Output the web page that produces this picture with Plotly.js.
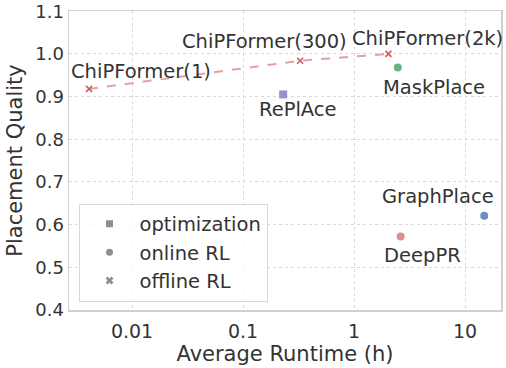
<!DOCTYPE html>
<html>
<head>
<meta charset="utf-8">
<script src="https://cdn.plot.ly/plotly-3.0.1.min.js"></script>
<style>
  body { margin: 0; }
  #graph { width: 506px; height: 368px; }
</style>
</head>
<body>
<div id="graph"></div>
<script>
// ChiPFormer runs (offline RL)
var chipNames = ["ChiPFormer(1)", "ChiPFormer(300)", "ChiPFormer(2k)"];
var chipRuntime = [0.0041, 0.327, 2.04];
var chipQuality = [0.918, 0.984, 1.0];

// other methods
var otherNames = ["RePlAce", "MaskPlace", "DeepPR", "GraphPlace"];
var otherRuntime = [0.23, 2.48, 2.63, 14.9];
var otherQuality = [0.905, 0.968, 0.572, 0.621];

var legendNames = ["optimization", "online RL", "offline RL"];
var yTicks = [0.4, 0.5, 0.6, 0.7, 0.8, 0.9, 1.0, 1.1];

var font = "DejaVu Sans, sans-serif";

function drawGraph() {
    var data = [];

    // dashed line through the ChiPFormer points
    data.push({
        x: chipRuntime,
        y: chipQuality,
        type: "scatter",
        mode: "lines+markers",
        line: {color: "rgba(214,110,110,0.65)", width: 2, dash: "dash"},
        marker: {symbol: "x-thin", size: 6, line: {color: "#cf5c5c", width: 1.6}, color: "#cf5c5c"},
        showlegend: false,
        hoverinfo: "skip"
    });

    // RePlAce square, the rest circles
    var otherColors = ["#9a8fc8", "#6cb47f", "#e48c8c", "#6a8cc8"];
    var otherSymbols = ["square", "circle", "circle", "circle"];
    for (var i = 0; i < otherNames.length; i++) {
        data.push({
            x: [otherRuntime[i]],
            y: [otherQuality[i]],
            type: "scatter",
            mode: "markers",
            marker: {symbol: otherSymbols[i], size: 8, color: otherColors[i]},
            showlegend: false
        });
    }

    // legend entries, grey markers only
    var legendSymbols = ["square", "circle", "x"];
    for (var j = 0; j < legendNames.length; j++) {
        data.push({
            x: [null],
            y: [null],
            type: "scatter",
            mode: "markers",
            name: legendNames[j],
            marker: {symbol: legendSymbols[j], size: 7, color: "#8e8e8e"}
        });
    }

    // label offsets in pixels (x, y)
    var chipShift = [[52, 17], [-36, 19], [39, 15]];
    var otherShift = [[15, -15], [36, -20], [22, -19], [-46, 19]];
    var annotations = [];
    for (var a = 0; a < chipNames.length; a++) {
        annotations.push({
            x: Math.log10(chipRuntime[a]), y: chipQuality[a], text: chipNames[a],
            showarrow: false, xshift: chipShift[a][0], yshift: chipShift[a][1],
            font: {family: font, size: 19.5, color: "#333"}
        });
    }
    for (var b = 0; b < otherNames.length; b++) {
        annotations.push({
            x: Math.log10(otherRuntime[b]), y: otherQuality[b], text: otherNames[b],
            showarrow: false, xshift: otherShift[b][0], yshift: otherShift[b][1],
            font: {family: font, size: 19.5, color: "#333"}
        });
    }

    var layout = {
        width: 506,
        height: 368,
        margin: {l: 69, r: 5, t: 11, b: 58},
        paper_bgcolor: "white",
        plot_bgcolor: "white",
        font: {family: font, size: 19, color: "#333"},
        showlegend: true,
        legend: {
            x: 0.022, y: 0.028, xanchor: "left", yanchor: "bottom",
            bordercolor: "#d8d8d8", borderwidth: 1, bgcolor: "rgba(255,255,255,0.8)",
            font: {family: font, size: 19.5, color: "#333"},
            itemwidth: 50
        },
        xaxis: {
            type: "log",
            range: [-2.568, 1.324],
            tickvals: [0.01, 0.1, 1, 10],
            ticktext: ["0.01", "0.1", "1", "10"],
            showgrid: true, gridcolor: "#d9d9d9", griddash: "dot", gridwidth: 1,
            showline: true, linecolor: "#d0d0d0", linewidth: 1.5, mirror: true,
            zeroline: false, ticks: "", ticklen: 0, ticklabelstandoff: 4,
            tickfont: {family: font, size: 19, color: "#333"},
            title: {text: "Average Runtime (h)", font: {family: font, size: 21, color: "#333"}, standoff: 3}
        },
        yaxis: {
            range: [0.4, 1.1005],
            tickvals: yTicks,
            tickformat: ".1f",
            ticklabeloverflow: "allow",
            showgrid: true, gridcolor: "#d9d9d9", griddash: "dot", gridwidth: 1,
            showline: true, linecolor: "#d0d0d0", linewidth: 1.5, mirror: true,
            zeroline: false, ticks: "", ticklen: 0,
            tickfont: {family: font, size: 18, color: "#333"},
            title: {text: "Placement Quality", font: {family: font, size: 21, color: "#333"}, standoff: 7}
        },
        annotations: annotations
    };

    Plotly.newPlot("graph", data, layout, {displayModeBar: false, staticPlot: true});
}

drawGraph();
</script>
</body>
</html>
